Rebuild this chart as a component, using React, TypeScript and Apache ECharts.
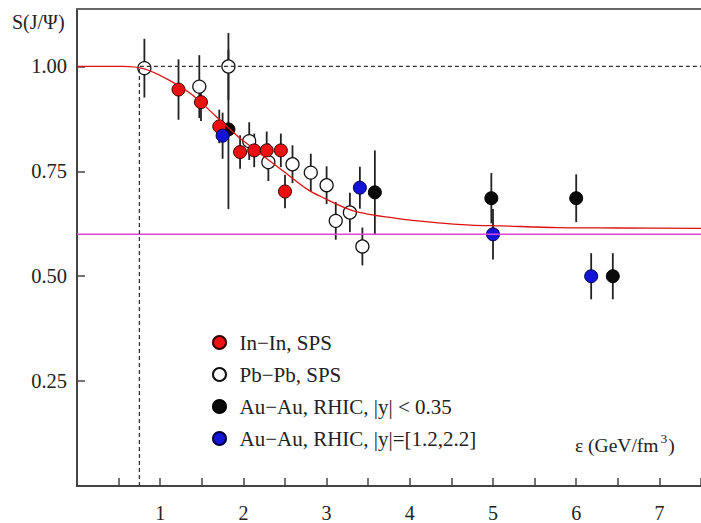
import React, { useEffect, useRef } from "react";
import * as echarts from "echarts";

// In-In, SPS (red)
const inInX = [1.22, 1.49, 1.71, 1.96, 2.13, 2.28, 2.45, 2.50];
const inInY = [0.945, 0.915, 0.857, 0.796, 0.800, 0.800, 0.800, 0.702];
const inInErr = [0.072, 0.045, 0.04, 0.04, 0.04, 0.045, 0.04, 0.04];

// Pb-Pb, SPS (open)
const pbX = [0.81, 1.47, 1.82, 2.07, 2.30, 2.59, 2.81, 3.00, 3.11, 3.28, 3.43];
const pbY = [0.996, 0.952, 1.0, 0.822, 0.772, 0.767, 0.747, 0.717, 0.632, 0.652, 0.571];
const pbErr = [0.07, 0.075, 0.08, 0.045, 0.045, 0.045, 0.045, 0.045, 0.045, 0.047, 0.045];

// Au-Au, RHIC, |y| < 0.35 (black)
const auMidX = [1.82, 3.58, 4.98, 6.0, 6.44];
const auMidY = [0.85, 0.70, 0.686, 0.686, 0.50];
const auMidErr = [0.19, 0.10, 0.06, 0.057, 0.055];

// Au-Au, RHIC, |y|=[1.2,2.2] (blue)
const auFwdX = [1.75, 3.40, 5.0, 6.18];
const auFwdY = [0.835, 0.711, 0.60, 0.50];
const auFwdErr = [0.055, 0.05, 0.06, 0.055];

// Fit curve (red line)
const fitX = [0, 0.55, 0.81, 1.10, 1.38, 1.66, 1.94, 2.05, 2.45, 2.77, 2.93, 3.32, 3.84, 4.31, 4.73, 5.10, 5.78, 6.50, 7.50];
const fitY = [1.0, 1.0, 0.994, 0.968, 0.933, 0.883, 0.832, 0.815, 0.755, 0.707, 0.690, 0.656, 0.638, 0.628, 0.622, 0.620, 0.616, 0.615, 0.614];

// reference lines
const thresholdX = 0.75;
const unityY = 1.0;
const plateauY = 0.6;

const xTicks = [0.5, 1, 1.5, 2, 2.5, 3, 3.5, 4, 4.5, 5, 5.5, 6, 6.5, 7, 7.5];
const xLabels = [1, 2, 3, 4, 5, 6, 7];
const yTicks = [0.25, 0.5, 0.75, 1.0];

const names = [
  "In\u2212In, SPS",
  "Pb\u2212Pb, SPS",
  "Au\u2212Au, RHIC, |y| < 0.35",
  "Au\u2212Au, RHIC, |y|=[1.2,2.2]",
];

const FONT = '"Liberation Serif", "Times New Roman", serif';

const zip2 = (xs: number[], ys: number[]) => xs.map((x, i) => [x, ys[i]]);
const zip3 = (xs: number[], ys: number[], es: number[]) => xs.map((x, i) => [x, ys[i], es[i]]);

export default function App() {
  const ref = useRef<HTMLDivElement>(null);
  useEffect(() => {
    if (!ref.current) return;
    const chart = echarts.init(ref.current, undefined, { renderer: "svg" });

    const errData = [
      ...zip3(pbX, pbY, pbErr),
      ...zip3(auMidX, auMidY, auMidErr),
      ...zip3(inInX, inInY, inInErr),
      ...zip3(auFwdX, auFwdY, auFwdErr),
    ];

    const option: any = {
      animation: false,
      backgroundColor: "#fff",
      grid: { left: 77, top: 9, width: 631.5, height: 478.7, containLabel: false },
      legend: {
        orient: "vertical",
        left: 207,
        top: 327,
        itemWidth: 30,
        itemHeight: 13,
        itemGap: 11,
        data: names,
        selectedMode: false,
        textStyle: { fontFamily: FONT, fontSize: 21, color: "#222", lineHeight: 21 },
      },
      xAxis: [
        {
          type: "value",
          min: 0,
          max: 7.5,
          interval: 0.5,
          splitLine: { show: false },
          axisLine: { show: true, onZero: false, lineStyle: { color: "#444", width: 2 } },
          axisTick: { show: true, inside: true, length: 8, customValues: xTicks, lineStyle: { color: "#444", width: 1.5 } },
          axisLabel: {
            customValues: xLabels,
            margin: 17,
            fontFamily: FONT,
            fontSize: 20,
            color: "#222",
            formatter: (v: number) => (Number.isInteger(v) && v > 0 ? String(v) : ""),
          },
        },
        {
          type: "value",
          position: "top",
          min: 0,
          max: 7.5,
          splitLine: { show: false },
          axisLine: { show: true, onZero: false, lineStyle: { color: "#666", width: 2 } },
          axisTick: { show: false },
          axisLabel: { show: false },
        },
      ],
      yAxis: {
        type: "value",
        min: 0,
        max: 1.137,
        interval: 0.25,
        splitLine: { show: false },
        axisLine: { show: true, onZero: false, lineStyle: { color: "#444", width: 2 } },
        axisTick: { show: true, inside: true, length: 8, customValues: yTicks, lineStyle: { color: "#444", width: 1.5 } },
        axisLabel: {
          customValues: yTicks,
          margin: 10,
          fontFamily: FONT,
          fontSize: 20.5,
          color: "#222",
          formatter: (v: number) => (v > 0 && v <= 1.001 ? v.toFixed(2) : ""),
        },
      },
      graphic: [
        {
          type: "text",
          x: 12,
          y: 22,
          style: { text: "S(J/\u03A8)", font: `20px ${FONT}`, fill: "#222", align: "left", verticalAlign: "middle" },
        },
        {
          type: "text",
          x: 575,
          y: 443,
          style: {
            text: "{a|\u03B5 (GeV/fm}{s|3}{a|)}",
            fill: "#222",
            align: "left",
            verticalAlign: "middle",
            rich: {
              a: { fontFamily: FONT, fontSize: 19.5, fill: "#222", color: "#222", lineHeight: 24, verticalAlign: "bottom" },
              s: { fontFamily: FONT, fontSize: 13.5, fill: "#222", color: "#222", lineHeight: 24, verticalAlign: "top", padding: [0, 1, 0, 2] },
            },
          },
        },
      ],
      series: [
        {
          type: "line",
          name: "plateau",
          data: [[0, plateauY], [7.5, plateauY]],
          symbol: "none",
          lineStyle: { color: "#dd44dd", width: 1.5 },
          silent: true,
        },
        {
          type: "line",
          name: "threshold",
          data: [[thresholdX, 0], [thresholdX, unityY], [7.5, unityY]],
          symbol: "none",
          lineStyle: { color: "#333", width: 1.3, type: [4, 3] },
          silent: true,
        },
        {
          type: "line",
          name: "fit",
          data: zip2(fitX, fitY),
          symbol: "none",
          smooth: 0.3,
          lineStyle: { color: "#dd1111", width: 1.3 },
          silent: true,
        },
        {
          type: "custom",
          name: "errors",
          data: errData,
          encode: { x: 0, y: 1 },
          silent: true,
          renderItem: (_p: any, api: any) => {
            const x = api.value(0);
            const y = api.value(1);
            const e = api.value(2);
            const a = api.coord([x, y - e]);
            const b = api.coord([x, y + e]);
            return {
              type: "line",
              shape: { x1: a[0], y1: a[1], x2: b[0], y2: b[1] },
              style: { stroke: "#222", lineWidth: 1.8 },
            };
          },
        },
        {
          type: "scatter",
          name: names[1],
          data: zip2(pbX, pbY),
          symbol: "circle",
          symbolSize: 13,
          itemStyle: { color: "#ffffff", borderColor: "#111", borderWidth: 1.3, opacity: 1 },
        },
        {
          type: "scatter",
          name: names[2],
          data: zip2(auMidX, auMidY),
          symbol: "circle",
          symbolSize: 13,
          itemStyle: { color: "#0a0a0a", borderColor: "#000", borderWidth: 1, opacity: 1 },
        },
        {
          type: "scatter",
          name: names[0],
          data: zip2(inInX, inInY),
          symbol: "circle",
          symbolSize: 13,
          itemStyle: { color: "#ee1010", borderColor: "#330000", borderWidth: 1, opacity: 1 },
        },
        {
          type: "scatter",
          name: names[3],
          data: zip2(auFwdX, auFwdY),
          symbol: "circle",
          symbolSize: 13,
          itemStyle: { color: "#1414d8", borderColor: "#000044", borderWidth: 1, opacity: 1 },
        },
      ],
    };

    chart.setOption(option);
    return () => chart.dispose();
  }, []);

  return <div ref={ref} style={{ width: 701, height: 523, position: "absolute", left: 0, top: 0 }} />;
}
